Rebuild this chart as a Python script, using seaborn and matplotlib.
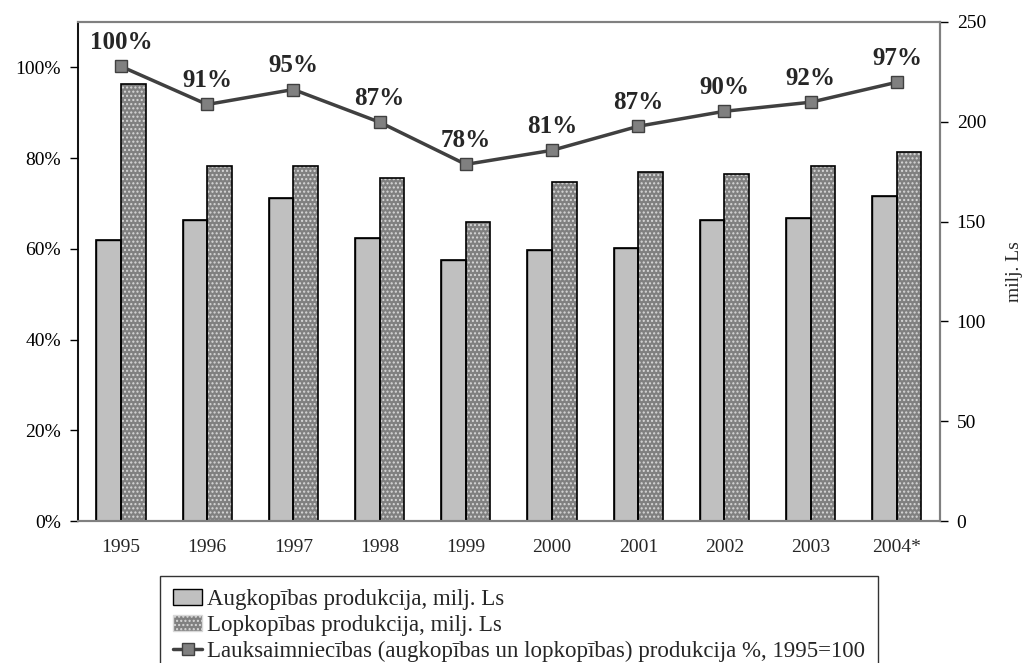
import pandas as pd
import matplotlib.pyplot as plt
import seaborn as sns
from matplotlib.patches import Patch
from matplotlib.lines import Line2D

years = ['1995', '1996', '1997', '1998', '1999', '2000', '2001', '2002', '2003', '2004*']
augkopiba = [141, 151, 162, 142, 131, 136, 137, 151, 152, 163]
lopkopiba = [219, 178, 178, 172, 150, 170, 175, 174, 178, 185]
kopa_pct = [100.2, 91.8, 95.1, 87.9, 78.6, 81.7, 87.0, 90.3, 92.3, 96.7]
pct_labels = ['100%', '91%', '95%', '87%', '78%', '81%', '87%', '90%', '92%', '97%']

lbl_aug = 'Augkopības produkcija, milj. Ls'
lbl_lop = 'Lopkopības produkcija, milj. Ls'
lbl_line = 'Lauksaimniecības (augkopības un lopkopības) produkcija %, 1995=100'

df = pd.DataFrame({
    'Year': years * 2,
    'Value': augkopiba + lopkopiba,
    'Series': [lbl_aug] * len(years) + [lbl_lop] * len(years),
})

sns.set_style("white")
plt.rcParams['font.family'] = ['Liberation Serif', 'DejaVu Serif']
plt.rcParams['font.size'] = 12

fig = plt.figure(figsize=(10.24, 6.63), dpi=100)
ax = fig.add_axes([0.076, 0.214, 0.842, 0.753])
ax2 = ax.twinx()
n = len(years)

# bars (right axis, milj. Ls)
sns.barplot(data=df, x='Year', y='Value', hue='Series', order=years,
            palette=['#c0c0c0', '#808080'], width=0.57, ax=ax,
            edgecolor='black', linewidth=1, legend=False, saturation=1)
for p in ax.patches[n:2 * n]:
    p.set_hatch('....')
    p.set_edgecolor('#d8d8d8')
    p.set_linewidth(0)
# outlines on top of the patterned bars
sns.barplot(data=df, x='Year', y='Value', hue='Series', order=years,
            palette=['#c0c0c0', '#808080'], width=0.57, ax=ax, fill=False,
            edgecolor='black', linewidth=1.2, legend=False)

ax.set_ylim(0, 250)
ax.set_xlim(-0.5, n - 0.5)
ax.set_yticks(range(0, 251, 50))
ax.set_xlabel('')
ax.set_ylabel('')
ax.tick_params(axis='x', which='major', length=0, labelsize=14, pad=13)
ax.set_xticks([i - 0.5 for i in range(n + 1)], minor=True)
ax.tick_params(axis='x', which='minor', direction='out', length=6, width=1, colors='black')

# line (left axis, %)
sns.lineplot(x=list(range(n)), y=kopa_pct, ax=ax2, color='#404040', linewidth=2.5,
             marker='s', markersize=9, markerfacecolor='#808080',
             markeredgecolor='#404040', markeredgewidth=1)
for i, (v, t) in enumerate(zip(kopa_pct, pct_labels)):
    ax2.annotate(t, (i, v), xytext=(0, 9), textcoords='offset points',
                 ha='center', va='bottom', fontsize=18, fontweight='bold')
ax2.set_ylim(0, 110)
ax2.set_yticks(range(0, 101, 20))
ax2.set_yticklabels([f'{v}%' for v in range(0, 101, 20)])
ax2.set_xlim(-0.5, n - 0.5)

# swap sides: bars' axis on the right, percent axis on the left
ax.yaxis.tick_right()
ax.yaxis.set_label_position('right')
ax2.yaxis.tick_left()
ax2.yaxis.set_label_position('left')
ax.set_ylabel('milj. Ls', fontsize=14, labelpad=14)
for a in (ax, ax2):
    a.tick_params(axis='y', direction='out', length=6, width=1, colors='black',
                  labelsize=14, pad=6)

for a in (ax, ax2):
    for s in a.spines.values():
        s.set_color('#808080')
        s.set_linewidth(1.5)
ax2.spines['left'].set_color('black')
ax2.spines['left'].set_linewidth(1.2)

handles = [
    Patch(facecolor='#c0c0c0', edgecolor='black', label=lbl_aug),
    Patch(facecolor='#808080', edgecolor='#d8d8d8', hatch='....', label=lbl_lop),
    Line2D([0], [0], color='#404040', lw=2.5, marker='s', markersize=8,
           markerfacecolor='#808080', markeredgecolor='#404040', label=lbl_line),
]
leg = fig.legend(handles=handles, loc='upper left', bbox_to_anchor=(160 / 1024, 1 - 576 / 663),
                 fontsize=16.5, frameon=True, fancybox=False, edgecolor='black',
                 handlelength=1.3, handletextpad=0.2, labelspacing=0.22,
                 borderpad=0.55, borderaxespad=0)
leg.get_frame().set_linewidth(1)

plt.savefig('out.png', dpi=100)
plt.close()
